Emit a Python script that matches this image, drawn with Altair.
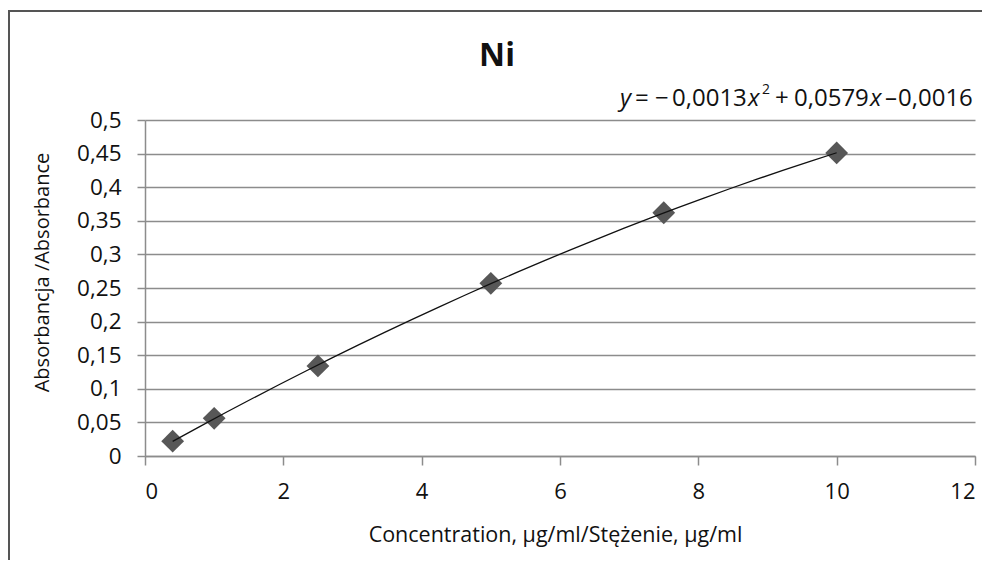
import altair as alt
import pandas as pd

# Data
conc = [0.4, 1.0, 2.5, 5.0, 7.5, 10.0]
absorb = [0.022, 0.056, 0.134, 0.257, 0.362, 0.451]
x_ticks = [0, 2, 4, 6, 8, 10, 12]
y_ticks = [0, 0.05, 0.1, 0.15, 0.2, 0.25, 0.3, 0.35, 0.4, 0.45, 0.5]

title_text = "Ni"
x_title = "Concentration, μg/ml/Stężenie, μg/ml"
y_title = "Absorbancja /Absorbance"

# equation pieces
eq_text = ["y", "=", "\u2212", "0,0013", "x", "2", "+", "0,0579", "x", "\u2013", "0,0016"]
eq_italic = [True, False, False, False, True, False, False, False, True, False, False]

df = pd.DataFrame({"conc": conc, "abs": absorb})

FONT = "Open Sans"
GRID = "#8c8c8c"
TXT = "#111111"

W, H = 830, 336

x_enc = alt.X("conc:Q",
              scale=alt.Scale(domain=[0, 12], nice=False),
              axis=alt.Axis(values=x_ticks, title=x_title, grid=False,
                            labelExpr="format(datum.value, 'd')",
                            domainColor=GRID, domainWidth=1.5,
                            tickColor=GRID, tickWidth=1.5, tickSize=9,
                            labelFont=FONT, labelFontSize=22, labelColor=TXT,
                            labelPadding=16, labelOverlap=False,
                            titleFont=FONT, titleFontSize=21.5, titleFontWeight="normal",
                            titleColor=TXT, titleX=410, titleY=79,
                            titleBaseline="middle", titleAlign="center"))
y_enc = alt.Y("abs:Q",
              scale=alt.Scale(domain=[0, 0.5], nice=False),
              axis=alt.Axis(values=y_ticks, title=y_title, grid=True,
                            gridColor=GRID, gridWidth=1.5,
                            domainColor=GRID, domainWidth=1.5,
                            tickColor=GRID, tickWidth=1.5, tickSize=8,
                            labelExpr="replace(format(datum.value, '.2~f'), '.', ',')",
                            labelFont=FONT, labelFontSize=22.5, labelColor=TXT,
                            labelPadding=16, labelOverlap=False,
                            titleFont=FONT, titleFontSize=20, titleFontWeight="normal",
                            titleColor=TXT, titleX=-103, titleY=152,
                            titleAngle=-90, titleBaseline="middle", titleAlign="center"))

base = alt.Chart(df)

points = base.mark_point(shape="diamond", filled=True, size=520,
                         color="#575757", opacity=1).encode(x=x_enc, y=y_enc)

trend = base.transform_regression(
    "conc", "abs", method="poly", order=2, extent=[0.4, 10]
).mark_line(color=TXT, strokeWidth=1.3).encode(x=x_enc, y=y_enc)

# Title
title = alt.Chart(pd.DataFrame({"t": [title_text]})).mark_text(
    font=FONT, fontSize=32, fontWeight="bold", color=TXT,
    align="center", baseline="alphabetic"
).encode(x=alt.value(352), y=alt.value(-54), text="t:N")

# Equation pieces (left edges / baselines relative to the plot area)
eq_x = [475, 490, 510, 527, 603, 617, 630, 649, 725, 740, 753]
eq_y = [-14, -14, -14, -14, -14, -26, -14, -14, -14, -14, -14]
eq_size = [24, 24, 24, 24, 24, 14, 24, 24, 24, 24, 24]
eq_layers = []
for i in range(len(eq_text)):
    eq_layers.append(
        alt.Chart(pd.DataFrame({"t": [eq_text[i]]})).mark_text(
            font=FONT, fontSize=eq_size[i],
            fontStyle=("italic" if eq_italic[i] else "normal"),
            color=TXT, align="left", baseline="alphabetic"
        ).encode(x=alt.value(eq_x[i]), y=alt.value(eq_y[i]), text="t:N")
    )

# Outer frame (top and left edges visible)
frame_top = alt.Chart(pd.DataFrame({"a": [0]})).mark_rule(color="#555", strokeWidth=2).encode(
    x=alt.value(-137), x2=alt.value(W + 60), y=alt.value(-109))
frame_left = alt.Chart(pd.DataFrame({"a": [0]})).mark_rule(color="#555", strokeWidth=2).encode(
    x=alt.value(-136), y=alt.value(-110), y2=alt.value(H + 120))

chart = alt.layer(points, trend, title, *eq_layers, frame_top, frame_left).properties(
    width=W, height=H,
    autosize=alt.AutoSizeParams(type="none"),
    padding={"left": 137, "top": 112, "right": 7, "bottom": 104},
    background="white",
).configure_view(stroke=None)

chart.save("out.html", embed_options={"renderer": "svg", "actions": False})
